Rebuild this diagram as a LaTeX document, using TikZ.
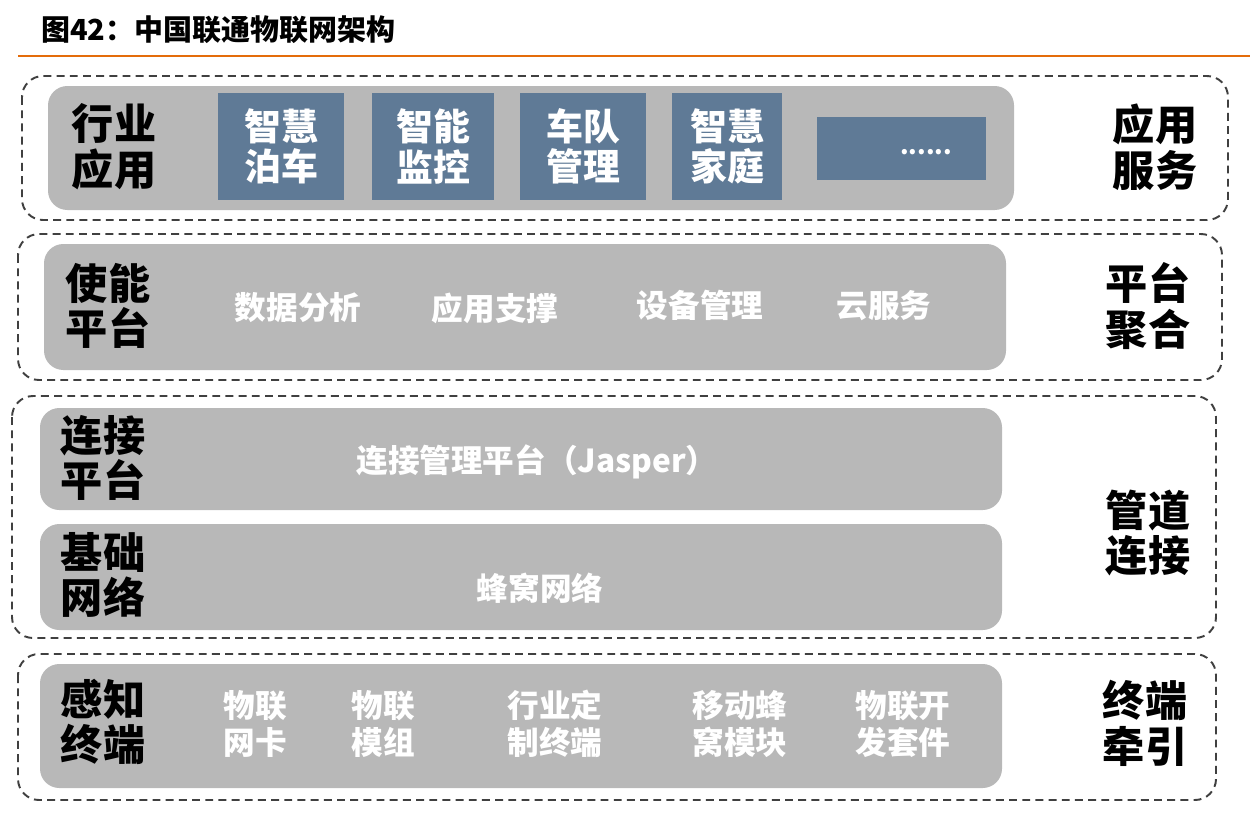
\documentclass[tikz,border=0pt]{standalone}
\usepackage{fontspec}
\setmainfont{Noto Sans CJK SC}
\definecolor{barorange}{HTML}{E46C0A}
\definecolor{panelgray}{HTML}{B8B8B8}
\definecolor{appblue}{HTML}{5F7A96}
\definecolor{dashgray}{HTML}{404040}
\tikzset{
	layer/.style={draw=dashgray, line width=1.1pt, dash pattern=on 4.5pt off 3pt, rounded corners=12pt},
	panel/.style={fill=panelgray, rounded corners=11pt},
	appbox/.style={fill=appblue, text=white, font=\bfseries\fontsize{21}{23}\selectfont, align=center, inner sep=0pt},
	sidelbl/.style={font=\bfseries\fontsize{24}{26}\selectfont, align=center},
	itemlbl/.style={text=white, font=\bfseries\fontsize{18}{21}\selectfont, align=center}
}

\begin{document}
\begin{tikzpicture}[x=0.02cm,y=-0.02cm]
	\useasboundingbox (0,0) rectangle (1250,812);
	% title
	\node[anchor=west, font=\bfseries\fontsize{16.5}{18}\selectfont] (title) at (35,30) {图42：中国联通物联网架构};
	\draw[barorange, line width=1.4pt] (18,56) -- (1250,56);
	%
	\draw[layer] (22,76) rectangle (1228,220);
	\draw[layer] (18,234) rectangle (1222,380);
	\draw[layer] (12,396) rectangle (1216,638);
	\draw[layer] (18,654) rectangle (1216,800);
	%
	\fill[panel] (48,86) rectangle (1014,210);
	\fill[panel] (44,244) rectangle (1006,370);
	\fill[panel] (40,408) rectangle (1002,510);
	\fill[panel] (40,524) rectangle (1002,630);
	\fill[panel] (40,664) rectangle (1002,788);
	%
	\node[sidelbl] (hyyy) at (114,147) {行业\\应用};
	\node[sidelbl] (sn) at (108,306) {使能\\平台};
	\node[sidelbl] (ljpt) at (103,458) {连接\\平台};
	\node[sidelbl] (jcwl) at (103,575) {基础\\网络};
	\node[sidelbl] (gzzd) at (103,722) {感知\\终端};
	%
	\node[sidelbl] (yyfw) at (1155,147) {应用\\服务};
	\node[sidelbl] (ptjh) at (1148,306) {平台\\聚合};
	\node[sidelbl] (gdlj) at (1148,533) {管道\\连接};
	\node[sidelbl] (zdqy) at (1145,723) {终端\\牵引};
	%
	\node[appbox, minimum width=2.52cm, minimum height=2.14cm] (zhbc) at (281,146.5) {智慧\\泊车};
	\node[appbox, minimum width=2.44cm, minimum height=2.14cm] (znjk) at (433,146.5) {智能\\监控};
	\node[appbox, minimum width=2.52cm, minimum height=2.14cm] (cdgl) at (583,146.5) {车队\\管理};
	\node[appbox, minimum width=2.2cm, minimum height=2.14cm] (zhjt) at (727,146.5) {智慧\\家庭};
	\node[appbox, minimum width=3.38cm, minimum height=1.26cm] (more) at (901.5,148.5) {};
	\node[text=white, font=\bfseries\fontsize{14}{16}\selectfont] (dots) at (926,152) {......};
	%
	\node[itemlbl] (sjfx) at (298,308) {数据分析};
	\node[itemlbl] (yyzc) at (495,308) {应用支撑};
	\node[itemlbl] (sbgl) at (700,305) {设备管理};
	\node[itemlbl] (yfw) at (884,306) {云服务};
	%
	\node[itemlbl] (jasper) at (537,462) {连接管理平台（Jasper）};
	\node[itemlbl] (fwwl) at (540,588) {蜂窝网络};
	%
	\node[itemlbl] (wlwk) at (255,724) {物联\\网卡};
	\node[itemlbl] (wlmz) at (383,724) {物联\\模组};
	\node[itemlbl] (hyzd) at (555,724) {行业定\\制终端};
	\node[itemlbl] (ydfw) at (740,724) {移动蜂\\窝模块};
	\node[itemlbl] (wlkf) at (903,724) {物联开\\发套件};
\end{tikzpicture}
\end{document}
